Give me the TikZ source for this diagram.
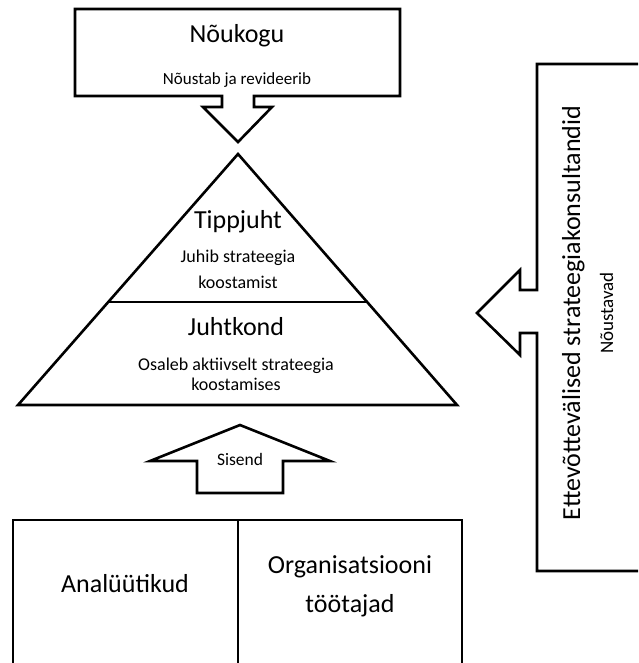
\documentclass[tikz,border=0pt]{standalone}
\usepackage{fontspec}
\setmainfont{Carlito}
\begin{document}
\begin{tikzpicture}[x=1pt,y=-1pt,
  shape line/.style={draw=black,line width=2.6pt,line join=miter},
  big/.style={font=\fontsize{26}{30}\selectfont,anchor=base,inner sep=0pt},
  small/.style={font=\fontsize{17.5}{20}\selectfont,anchor=base,inner sep=0pt}]
\clip (0,0) rectangle (638,663);
\fill[white] (0,0) rectangle (638,663);
% top box with down arrow
\draw[shape line] (75,9) -- (400,9) -- (400,96) -- (254,96) -- (254,107) -- (272,107)
  -- (238,142) -- (203,107) -- (222,107) -- (222,96) -- (75,96) -- cycle;
\node[big] (noukogu) at (237,43) {Nõukogu};
\node[small,font=\fontsize{17}{20}\selectfont] (noustab) at (237,85) {Nõustab ja revideerib};
% pyramid
\draw[shape line] (238,154) -- (457,405) -- (18,405) -- cycle;
\draw[shape line] (108,302) -- (367,302);
\node[big] (tipp) at (238,228) {Tippjuht};
\node[small,font=\fontsize{18}{20}\selectfont] (tipp1) at (238,262) {Juhib strateegia};
\node[small,font=\fontsize{18}{20}\selectfont] (tipp2) at (238,288) {koostamist};
\node[big] (juht) at (236,335) {Juhtkond};
\node[small,font=\fontsize{18}{20}\selectfont] (juht1) at (236,370) {Osaleb aktiivselt strateegia};
\node[small,font=\fontsize{18}{20}\selectfont] (juht2) at (236,390) {koostamises};
% Sisend arrow
\draw[shape line] (240,425) -- (330,461) -- (283,461) -- (283,493) -- (197,493)
  -- (197,461) -- (150,461) -- cycle;
\node[small] (sisend) at (240,465) {Sisend};
% bottom box
\draw[shape line] (13,680) -- (13,520) -- (462,520) -- (462,680);
\draw[shape line] (238,520) -- (238,680);
\node[big] (anal) at (125,592) {Analüütikud};
\node[big] (org1) at (350,573) {Organisatsiooni};
\node[big] (org2) at (350,612) {töötajad};
% right box with left arrow
\draw[shape line] (537,64) -- (660,64) -- (660,571) -- (537,571) -- (537,333) -- (520,333)
  -- (520,355) -- (477,313) -- (520,270) -- (520,290) -- (537,290) -- cycle;
\node[big,rotate=90] (konsult) at (580,313) {Ettevõttevälised strateegiakonsultandid};
\node[small,rotate=90,font=\fontsize{19}{20}\selectfont] (noustavad) at (613,313) {Nõustavad};
\end{tikzpicture}
\end{document}
